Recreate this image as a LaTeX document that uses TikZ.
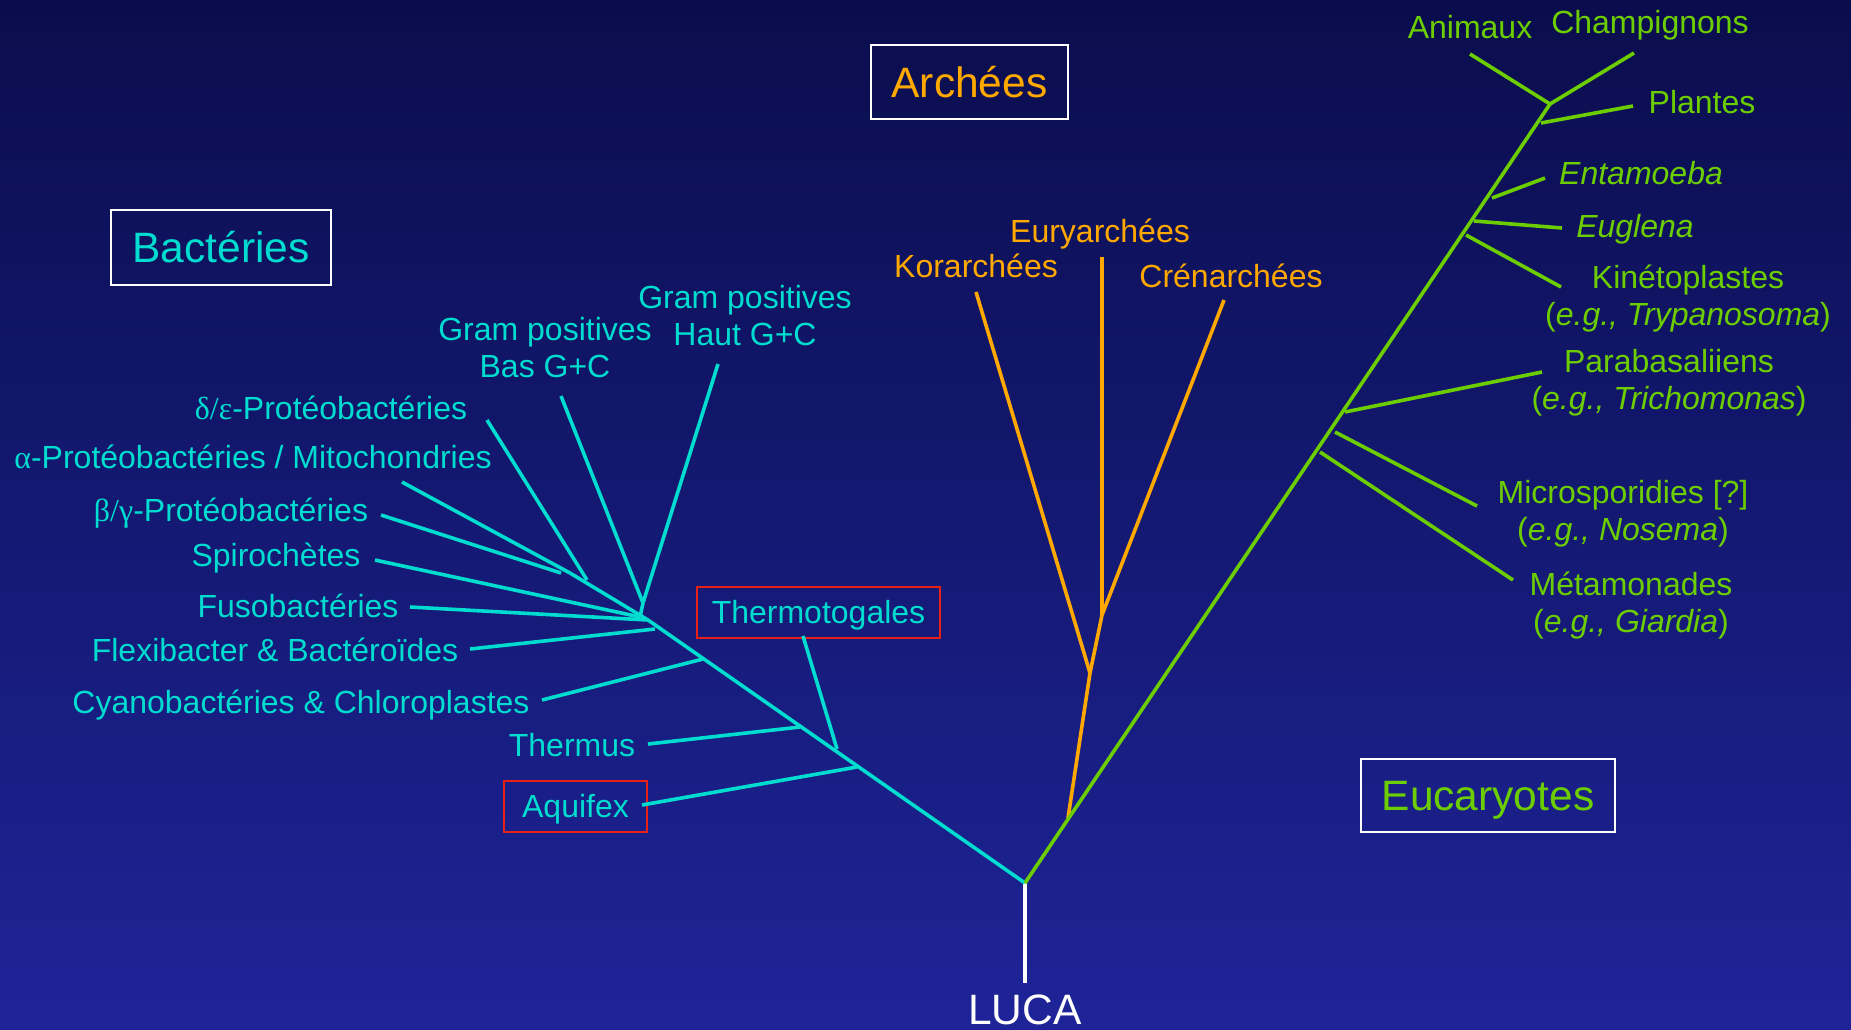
\documentclass[tikz,border=0pt]{standalone}
\usepackage{fontspec}
\setmainfont{Liberation Sans}
\newfontfamily\grk{Liberation Serif}
\definecolor{bact}{RGB}{0,220,208}
\definecolor{arch}{RGB}{255,168,0}
\definecolor{euk}{RGB}{108,206,0}
\definecolor{redbox}{RGB}{232,32,22}
\definecolor{bgtop}{RGB}{10,13,76}
\definecolor{bgbot}{RGB}{30,36,152}
\begin{document}
\begin{tikzpicture}[x=1pt,y=-1pt,
  lbl/.style={inner sep=0pt, anchor=base, align=center, font=\fontsize{32}{37.5}\selectfont},
  title/.style={draw=white, line width=2pt, inner sep=0pt, text height=30.4pt, text depth=0pt, font=\fontsize{42.5}{48}\selectfont},
  redbx/.style={draw=redbox, line width=2pt, inner sep=0pt, text height=22.9pt, text depth=0pt, font=\fontsize{32}{38}\selectfont, text=bact},
  br/.style={line width=3.6pt},
  bline/.style={br, draw=bact},
  aline/.style={br, draw=arch},
  eline/.style={br, draw=euk},
]
\useasboundingbox (0,0) rectangle (1851,1029);
\shade[top color=bgtop, bottom color=bgbot] (0,0) rectangle (1851,1029);

% ---------- titles ----------
\node[title, text=arch, minimum width=197, minimum height=74] (tarch) at (969.5,82) {Archées};
\node[title, text=bact, minimum width=220, minimum height=75] (tbact) at (221,247.5) {Bactéries};
\node[title, text=euk, minimum width=254, minimum height=73] (teuk) at (1488,795.5) {Eucaryotes};

% ---------- bacteria labels (multi-line: base = last line) ----------
\begin{scope}[every node/.append style={text=bact}]
\node[lbl] (gph) at (745,345.5) {Gram positives\\Haut G+C};
\node[lbl] (gpb) at (545,377.5) {Gram positives\\Bas G+C};
\node[lbl] (delta) at (331,419) {{\grk δ/ε}-Protéobactéries};
\node[lbl] (alpha) at (253,468) {{\grk α}-Protéobactéries / Mitochondries};
\node[lbl] (beta) at (231,521) {{\grk β/γ}-Protéobactéries};
\node[lbl] (spiro) at (276,566) {Spirochètes};
\node[lbl] (fuso) at (298,617) {Fusobactéries};
\node[lbl] (flex) at (275,661) {Flexibacter \& Bactéroïdes};
\node[lbl] (cyano) at (301,713) {Cyanobactéries \& Chloroplastes};
\node[lbl] (thermus) at (572,756) {Thermus};
\end{scope}
\node[redbx, minimum width=143, minimum height=51] (aquifex) at (575.5,806.5) {Aquifex};
\node[redbx, minimum width=243, minimum height=51] (thermo) at (818.5,612.5) {Thermotogales};

% ---------- archaea labels ----------
\begin{scope}[every node/.append style={text=arch}]
\node[lbl] (kor) at (976,277) {Korarchées};
\node[lbl] (eury) at (1100,242) {Euryarchées};
\node[lbl] (cren) at (1231,287) {Crénarchées};
\end{scope}

% ---------- eukaryote labels ----------
\begin{scope}[every node/.append style={text=euk}]
\node[lbl] (anim) at (1470,38) {Animaux};
\node[lbl] (champ) at (1650,33) {Champignons};
\node[lbl] (plant) at (1702,113) {Plantes};
\node[lbl] (entam) at (1641,184) {\textit{Entamoeba}};
\node[lbl] (eugl) at (1635,237) {\textit{Euglena}};
\node[lbl] (kine) at (1688,325.5) {Kinétoplastes\\(\textit{e.g., Trypanosoma})};
\node[lbl] (para) at (1669,409.5) {Parabasaliiens\\(\textit{e.g., Trichomonas})};
\node[lbl] (micro) at (1623,540.5) {Microsporidies [?]\\(\textit{e.g., Nosema})};
\node[lbl] (meta) at (1631,632.5) {Métamonades\\(\textit{e.g., Giardia})};
\end{scope}

\node[inner sep=0pt, anchor=base, text=white, font=\fontsize{42.5}{48}\selectfont] (luca) at (1025,1024) {LUCA};

% ---------- coordinates ----------
\coordinate (root) at (1025,883);
\coordinate (lucatop) at (1025,983);
% bacteria stem
\coordinate (bA) at (857,767);
\coordinate (bTg) at (837,749);
\coordinate (bTh) at (800,727);
\coordinate (bC) at (703,659);
\coordinate (bX) at (655,629);
\coordinate (bF) at (648,620);
\coordinate (bS) at (640,617);
\coordinate (bG) at (643,603);
\coordinate (bD) at (587,580);
\coordinate (bTop) at (570,573);
\coordinate (bB) at (561,573);
% bacteria tips
\coordinate (eAq) at (642,805);
\coordinate (eTg) at (803,636);
\coordinate (eTh) at (648,744);
\coordinate (eCy) at (542,700);
\coordinate (eFl) at (470,649);
\coordinate (eFu) at (410,607);
\coordinate (eSp) at (375,560);
\coordinate (eBe) at (381,515);
\coordinate (eAl) at (402,482);
\coordinate (eDe) at (487,420);
\coordinate (eGb) at (561,396);
\coordinate (eGh) at (718,364);
% archaea
\coordinate (aR) at (1068,818);
\coordinate (aK) at (1090,673);
\coordinate (aE) at (1102,615);
\coordinate (eKo) at (976,292);
\coordinate (eEu) at (1102,257);
\coordinate (eCr) at (1224,300);
% eukaryotes
\coordinate (kTop) at (1550,104);
\coordinate (kPl) at (1541,123);
\coordinate (kEn) at (1492,198);
\coordinate (kEg) at (1474,221);
\coordinate (kKi) at (1466,235);
\coordinate (kPa) at (1345,412);
\coordinate (kMi) at (1335,432);
\coordinate (kMe) at (1320,452);
\coordinate (tAn) at (1470,54);
\coordinate (tCh) at (1634,53);
\coordinate (tPl) at (1633,106);
\coordinate (tEn) at (1545,178);
\coordinate (tEg) at (1562,228);
\coordinate (tKi) at (1561,287);
\coordinate (tPa) at (1542,372);
\coordinate (tMi) at (1477,506);
\coordinate (tMe) at (1513,580);

% ---------- LUCA ----------
\draw[br, draw=white] (root) -- (lucatop);

% ---------- bacteria ----------
\draw[bline] (root) -- (bF) -- (bTop);
\draw[bline] (bA) -- (eAq);
\draw[bline] (bTg) -- (eTg);
\draw[bline] (bTh) -- (eTh);
\draw[bline] (bC) -- (eCy);
\draw[bline] (bX) -- (eFl);
\draw[bline] (bF) -- (eFu);
\draw[bline] (bS) -- (eSp);
\draw[bline] (bS) -- (bG);
\draw[bline] (bG) -- (eGb);
\draw[bline] (bG) -- (eGh);
\draw[bline] (bD) -- (eDe);
\draw[bline] (bTop) -- (eAl);
\draw[bline] (bB) -- (eBe);

% ---------- archaea ----------
\draw[aline] (aR) -- (aK) -- (aE);
\draw[aline] (aK) -- (eKo);
\draw[aline] (aE) -- (eEu);
\draw[aline] (aE) -- (eCr);

% ---------- eukaryotes ----------
\draw[eline] (root) -- (kTop);
\draw[eline] (kTop) -- (tAn);
\draw[eline] (kTop) -- (tCh);
\draw[eline] (kPl) -- (tPl);
\draw[eline] (kEn) -- (tEn);
\draw[eline] (kEg) -- (tEg);
\draw[eline] (kKi) -- (tKi);
\draw[eline] (kPa) -- (tPa);
\draw[eline] (kMi) -- (tMi);
\draw[eline] (kMe) -- (tMe);
\end{tikzpicture}
\end{document}
